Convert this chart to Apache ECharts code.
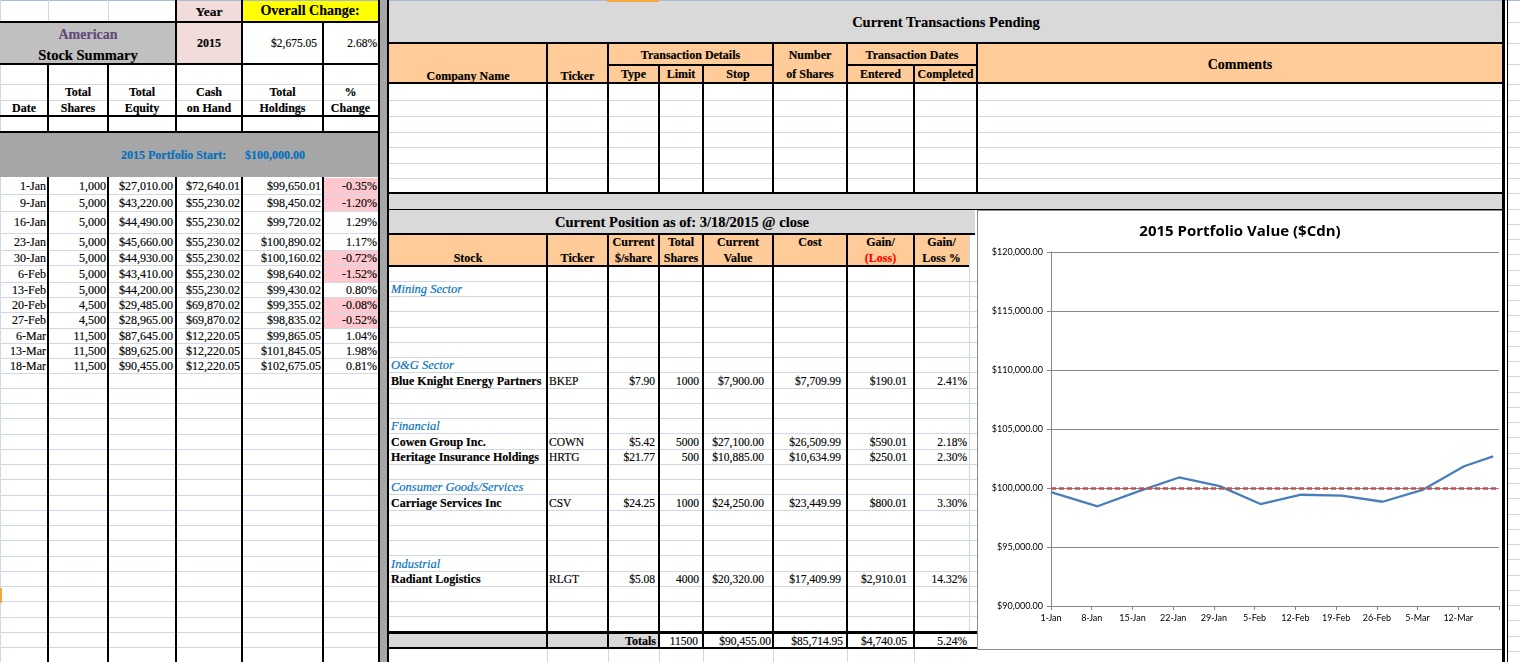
<!DOCTYPE html>
<html lang="en">
<head>
<meta charset="UTF-8">
<title>2015 Portfolio</title>
<script src="https://cdn.jsdelivr.net/npm/echarts@6/dist/echarts.min.js"></script>
<style>
  html, body { margin: 0; padding: 0; background: #fff; }
  #sheet { position: relative; width: 1520px; height: 662px; overflow: hidden;
           font-family: "Liberation Serif", "Times New Roman", serif; font-size: 12px; color: #000;
           -webkit-text-stroke: 0.15px; }
  #sheet div { box-sizing: border-box; }
  #chart { -webkit-text-stroke: 0; }
</style>
</head>
<body>
<div id="sheet">
  <div id="chart" style="position:absolute;left:978px;top:211px;width:524px;height:438px;z-index:5"></div>
</div>
<script>
// summary table (left side)
var rowDates = ['1-Jan', '9-Jan', '16-Jan', '23-Jan', '30-Jan', '6-Feb', '13-Feb', '20-Feb', '27-Feb', '6-Mar', '13-Mar', '18-Mar'];
var isoDates = ['2015-01-01', '2015-01-09', '2015-01-16', '2015-01-23', '2015-01-30', '2015-02-06',
                '2015-02-13', '2015-02-20', '2015-02-27', '2015-03-06', '2015-03-13', '2015-03-18'];
var totalShares = [1000, 5000, 5000, 5000, 5000, 5000, 5000, 4500, 4500, 11500, 11500, 11500];
var totalEquity = [27010.00, 43220.00, 44490.00, 45660.00, 44930.00, 43410.00, 44200.00, 29485.00, 28965.00, 87645.00, 89625.00, 90455.00];
var cashOnHand = [72640.01, 55230.02, 55230.02, 55230.02, 55230.02, 55230.02, 55230.02, 69870.02, 69870.02, 12220.05, 12220.05, 12220.05];
var totalHoldings = [99650.01, 98450.02, 99720.02, 100890.02, 100160.02, 98640.02, 99430.02, 99355.02, 98835.02, 99865.05, 101845.05, 102675.05];
var pctChange = [-0.35, -1.20, 1.29, 1.17, -0.72, -1.52, 0.80, -0.08, -0.52, 1.04, 1.98, 0.81];
var portfolioStart = 100000;
var overallChange = 2675.05;
var overallPct = 2.68;

// current position (middle)
var sectors = ['Mining Sector', 'O&G Sector', 'Financial', 'Consumer Goods/Services', 'Industrial'];
var stockNames = ['Blue Knight Energy Partners', 'Cowen Group Inc.', 'Heritage Insurance Holdings', 'Carriage Services Inc', 'Radiant Logistics'];
var tickers = ['BKEP', 'COWN', 'HRTG', 'CSV', 'RLGT'];
var pricePerShare = [7.90, 5.42, 21.77, 24.25, 5.08];
var sharesHeld = [1000, 5000, 500, 1000, 4000];
var currentValue = [7900.00, 27100.00, 10885.00, 24250.00, 20320.00];
var costBasis = [7709.99, 26509.99, 10634.99, 23449.99, 17409.99];
var gainLoss = [190.01, 590.01, 250.01, 800.01, 2910.01];
var gainPct = [2.41, 2.18, 2.30, 3.30, 14.32];
var totalsRow = { shares: 11500, value: 90455.00, cost: 85714.95, gain: 4740.05, pct: 5.24 };

// chart axis
var xTickLabels = ['1-Jan', '8-Jan', '15-Jan', '22-Jan', '29-Jan', '5-Feb', '12-Feb', '19-Feb', '26-Feb', '5-Mar', '12-Mar', ''];

// which row of the position table holds what (S = sector, K = stock)
var posLayout = ['', 'S0', '', '', '', '', 'S1', 'K0', '', '', 'S2', 'K1', 'K2', '', 'S3', 'K3', '', '', '', 'S4', 'K4', '', '', ''];

function money(v) {
    return '$' + v.toLocaleString('en-US', { minimumFractionDigits: 2, maximumFractionDigits: 2 });
}
function pct(v) { return v.toFixed(2) + '%'; }

var sheet = document.getElementById('sheet');
function box(x, y, w, h, css) {
    var d = document.createElement('div');
    d.style.cssText = 'position:absolute;left:' + x + 'px;top:' + y + 'px;width:' + w + 'px;height:' + h + 'px;' + (css || '');
    sheet.appendChild(d);
    return d;
}
function fill(x1, y1, x2, y2, color) { return box(x1, y1, x2 - x1, y2 - y1, 'background:' + color); }
function hline(x1, x2, y, t, color) { return fill(x1, y - t / 2, x2, y + t / 2, color || '#000'); }
function vline(x, y1, y2, t, color) { return fill(x - t / 2, y1, x + t / 2, y2, color || '#000'); }
function text(x1, x2, y, s, align, css) {
    var d = box(x1, y - 9, x2 - x1, 18, 'line-height:18px;white-space:nowrap;text-align:' + (align || 'center') + ';' + (css || ''));
    d.textContent = s;
    return d;
}

var GRID = '#d0d7e5';
var B = 'font-weight:bold;';
var BLUE = '#0070c0';

// ---------- light gridlines ----------
hline(0, 1520, 0.5, 1, '#a9bcd6');
vline(0.5, 0, 662, 1, GRID);
vline(48, 0, 22, 1, GRID);
vline(108, 0, 22, 1, GRID);
hline(0, 378, 84, 1, GRID);
hline(0, 378, 100, 1, GRID);
var leftTops = [177, 194, 211, 233, 250, 265, 282, 297, 312, 328, 343, 358, 373];
for (var i = 1; i < leftTops.length; i++) hline(0, 378, leftTops[i], 1, GRID);
for (var y = 373 + 15.25; y < 662; y += 15.25) hline(0, 378, y, 1, GRID);

[100, 116, 132, 147, 163, 178].forEach(function (yy) { hline(389, 1503, yy, 1, GRID); });
for (i = 1; i < 24; i++) hline(389, 977, 266 + i * 15.25, 1, GRID);
var posCols = [389, 547, 608, 659, 703, 773, 847, 914, 977];
posCols.slice(1, 8).forEach(function (x) { vline(x, 648, 662, 1, GRID); });
vline(969, 234, 632, 1, GRID);
[22, 43, 64, 84, 100, 116, 132, 147, 163, 178, 193].forEach(function (yy) { hline(1508, 1520, yy, 1, GRID); });
for (y = 209; y < 662; y += 15.25) hline(1508, 1520, y, 1, GRID);

// ---------- fills ----------
fill(176, 1, 242, 22, '#f2dcdb');
fill(242, 1, 378, 22, '#ffff00');
fill(0, 22, 176, 64, '#c0c0c0');
fill(176, 22, 242, 64, '#f2dcdb');
fill(0, 132, 378, 177, '#a6a6a6');
pctChange.forEach(function (v, k) {
    if (v < 0) fill(323, leftTops[k] + 0.5, 378, leftTops[k + 1] - 0.5, '#ffc7ce');
});
fill(378, 0, 389, 662, '#a6a6a6');

fill(389, 1, 1503, 43, '#d9d9d9');
fill(389, 43, 1503, 83, '#ffcc99');
fill(389, 193, 1503, 209, '#d9d9d9');
fill(389, 210, 975, 234, '#d9d9d9');
fill(389, 234, 969, 266, '#ffcc99');
fill(389, 632, 659, 648, '#d9d9d9');
fill(607, 0, 659, 2, '#f5a742');
fill(0, 588, 2, 603, '#f5a742');

// chart frame
box(977, 210, 526, 440, 'border:1px solid #8c8c8c;background:#fff;');

// ---------- black borders ----------
hline(0, 378, 22, 2);
hline(0, 378, 64, 2.5);
hline(0, 378, 116, 2.5);
hline(0, 378, 132, 2);
vline(176, 0, 64, 1.2);
vline(242, 0, 64, 1.2);
vline(323, 22, 64, 1.2);
vline(48, 64, 132, 2.5);
vline(48, 177, 662, 2.5);
[108, 176, 242, 323].forEach(function (x) {
    vline(x, 64, 132, 1.2);
    vline(x, 177, 662, 1.2);
});
vline(379, 0, 662, 2);
vline(388, 0, 662, 2);

hline(389, 1503, 43, 2.5);
hline(389, 1503, 83, 2.5);
hline(608, 773, 65, 1.2);
hline(847, 977, 65, 1.2);
[547, 608, 773, 847, 977].forEach(function (x) { vline(x, 43, 193, 1.2); });
[659, 703, 914].forEach(function (x) { vline(x, 65, 193, 1.2); });
hline(389, 1503, 193, 2.5);
hline(389, 1503, 209.5, 1.5);
hline(389, 975, 234, 1.2);
hline(389, 969, 266, 2.5);
posCols.slice(1, 8).forEach(function (x) { vline(x, 234, 648, 1.2); });
hline(389, 977, 632.5, 2.5);
hline(389, 977, 648, 2.5);
vline(1503.5, 0, 662, 2.5);
vline(1507.5, 0, 662, 1.5);

// ---------- left summary texts ----------
text(176, 242, 12, 'Year', 'center', B + 'font-size:13.5px');
text(242, 378, 11, 'Overall Change:', 'center', B + 'font-size:14px');
text(0, 176, 35, 'American', 'center', B + 'font-size:14px;color:#604a7b');
text(0, 176, 55, 'Stock Summary', 'center', B + 'font-size:14.5px');
text(176, 242, 43, '2015', 'center', B + 'font-size:12px');
text(242, 317, 43, money(overallChange), 'right', 'font-size:11.5px');
text(323, 377, 43, pct(overallPct), 'right', 'font-size:11.5px');

var leftCols = [0, 48, 108, 176, 242, 323, 378];
var head1 = ['', 'Total', 'Total', 'Cash', 'Total', '%'];
var head2 = ['Date', 'Shares', 'Equity', 'on Hand', 'Holdings', 'Change'];
for (i = 0; i < 6; i++) {
    text(leftCols[i], leftCols[i + 1], 92, head1[i], 'center', B + 'font-size:12px');
    text(leftCols[i], leftCols[i + 1], 108, head2[i], 'center', B + 'font-size:12px');
}
text(121, 240, 155, '2015 Portfolio Start:', 'left', B + 'font-size:12px;color:' + BLUE);
text(245, 330, 155, money(portfolioStart), 'left', B + 'font-size:12px;color:' + BLUE);

rowDates.forEach(function (d, k) {
    var cy = (leftTops[k] + leftTops[k + 1]) / 2;
    text(0, 46, cy, d, 'right');
    text(48, 106, cy, totalShares[k].toLocaleString('en-US'), 'right');
    text(108, 173, cy, money(totalEquity[k]), 'right');
    text(176, 240, cy, money(cashOnHand[k]), 'right');
    text(242, 321, cy, money(totalHoldings[k]), 'right');
    text(323, 377, cy, pct(pctChange[k]), 'right');
});

// ---------- transactions pending ----------
text(389, 1503, 22, 'Current Transactions Pending', 'center', B + 'font-size:14.5px');
var H = B + 'font-size:12px';
text(389, 547, 76, 'Company Name', 'center', H);
text(547, 608, 76, 'Ticker', 'center', H);
text(608, 773, 55, 'Transaction Details', 'center', H);
text(608, 659, 74, 'Type', 'center', H);
text(659, 703, 74, 'Limit', 'center', H);
text(703, 773, 74, 'Stop', 'center', H);
text(773, 847, 55, 'Number', 'center', H);
text(773, 847, 74, 'of Shares', 'center', H);
text(847, 977, 55, 'Transaction Dates', 'center', H);
text(847, 914, 74, 'Entered', 'center', H);
text(914, 977, 74, 'Completed', 'center', H);
text(977, 1503, 65, 'Comments', 'center', B + 'font-size:14px');

// ---------- current position ----------
text(389, 975, 222, 'Current Position as of: 3/18/2015 @ close', 'center', B + 'font-size:14.5px');
text(389, 547, 258, 'Stock', 'center', H);
text(547, 608, 258, 'Ticker', 'center', H);
text(608, 659, 242, 'Current', 'center', H);
text(608, 659, 258, '$/share', 'center', H);
text(659, 703, 242, 'Total', 'center', H);
text(659, 703, 258, 'Shares', 'center', H);
text(703, 773, 242, 'Current', 'center', H);
text(703, 773, 258, 'Value', 'center', H);
text(773, 847, 242, 'Cost', 'center', H);
text(847, 914, 242, 'Gain/', 'center', H);
text(847, 914, 258, '(Loss)', 'center', B + 'font-size:12px;color:#ff0000');
text(914, 969, 242, 'Gain/', 'center', H);
text(914, 969, 258, 'Loss %', 'center', H);

posLayout.forEach(function (code, r) {
    if (!code) return;
    var cy = 266 + r * 15.25 + 7.8;
    var idx = +code.slice(1);
    if (code[0] === 'S') {
        text(391, 600, cy, sectors[idx], 'left', 'font-style:italic;font-size:12.5px;color:' + BLUE);
    } else {
        text(391, 547, cy, stockNames[idx], 'left', B + 'font-size:12px');
        text(549, 608, cy, tickers[idx], 'left', 'font-size:11.5px');
        text(608, 655, cy, money(pricePerShare[idx]), 'right', 'font-size:11.5px');
        text(659, 699, cy, String(sharesHeld[idx]), 'right', 'font-size:11.5px');
        text(703, 764, cy, money(currentValue[idx]), 'right', 'font-size:11.5px');
        text(773, 841, cy, money(costBasis[idx]), 'right', 'font-size:11.5px');
        text(847, 907, cy, money(gainLoss[idx]), 'right', 'font-size:11.5px');
        text(914, 967, cy, pct(gainPct[idx]), 'right', 'font-size:11.5px');
    }
});
text(560, 656, 640.5, 'Totals', 'right', B + 'font-size:12px');
text(659, 698, 640.5, String(totalsRow.shares), 'right', 'font-size:11.5px');
text(703, 771, 640.5, money(totalsRow.value), 'right', 'font-size:11.5px');
text(773, 843, 640.5, money(totalsRow.cost), 'right', 'font-size:11.5px');
text(847, 907, 640.5, money(totalsRow.gain), 'right', 'font-size:11.5px');
text(914, 967, 640.5, pct(totalsRow.pct), 'right', 'font-size:11.5px');

// ---------- chart ----------
var DAY = 86400000;
var t0 = Date.parse(isoDates[0]);
var linePoints = isoDates.map(function (d, k) {
    return [Math.round((Date.parse(d) - t0) / DAY), totalHoldings[k]];
});

var myChart = echarts.init(document.getElementById('chart'));
var option = {
    animation: false,
    backgroundColor: '#fff',
    title: {
        text: '2015 Portfolio Value ($Cdn)',
        left: 'center',
        top: 8,
        textStyle: { fontFamily: 'Open Sans', fontSize: 15, fontWeight: 'bold', color: '#000' }
    },
    grid: { left: 73, right: 3, top: 41, bottom: 43 },
    xAxis: {
        type: 'value',
        min: 0,
        max: 77,
        interval: 7,
        axisLine: { lineStyle: { color: '#868686', width: 1 } },
        axisTick: { show: true, length: 4, lineStyle: { color: '#868686' } },
        splitLine: { show: false },
        axisLabel: {
            fontFamily: 'Lato', fontSize: 9, color: '#000', margin: 8,
            formatter: function (v) { return xTickLabels[Math.round(v / 7)] || ''; }
        }
    },
    yAxis: {
        type: 'value',
        min: 90000,
        max: 120000,
        interval: 5000,
        axisLine: { show: true, lineStyle: { color: '#868686', width: 1 } },
        axisTick: { show: true, length: 4, lineStyle: { color: '#868686' } },
        splitLine: { lineStyle: { color: '#868686', width: 1 } },
        axisLabel: {
            fontFamily: 'Lato', fontSize: 9, color: '#000', margin: 8,
            formatter: function (v) { return money(v); }
        }
    },
    series: [
        {
            name: 'Total Holdings',
            type: 'line',
            data: linePoints,
            showSymbol: false,
            lineStyle: { color: '#4a7ebb', width: 2.3 },
            itemStyle: { color: '#4a7ebb' },
            markLine: {
                silent: true,
                symbol: ['none', 'none'],
                label: { show: false },
                lineStyle: { color: '#c0504d', type: [5, 3], width: 2.5 },
                data: [{ yAxis: portfolioStart }]
            }
        }
    ]
};
myChart.setOption(option);
</script>
</body>
</html>
